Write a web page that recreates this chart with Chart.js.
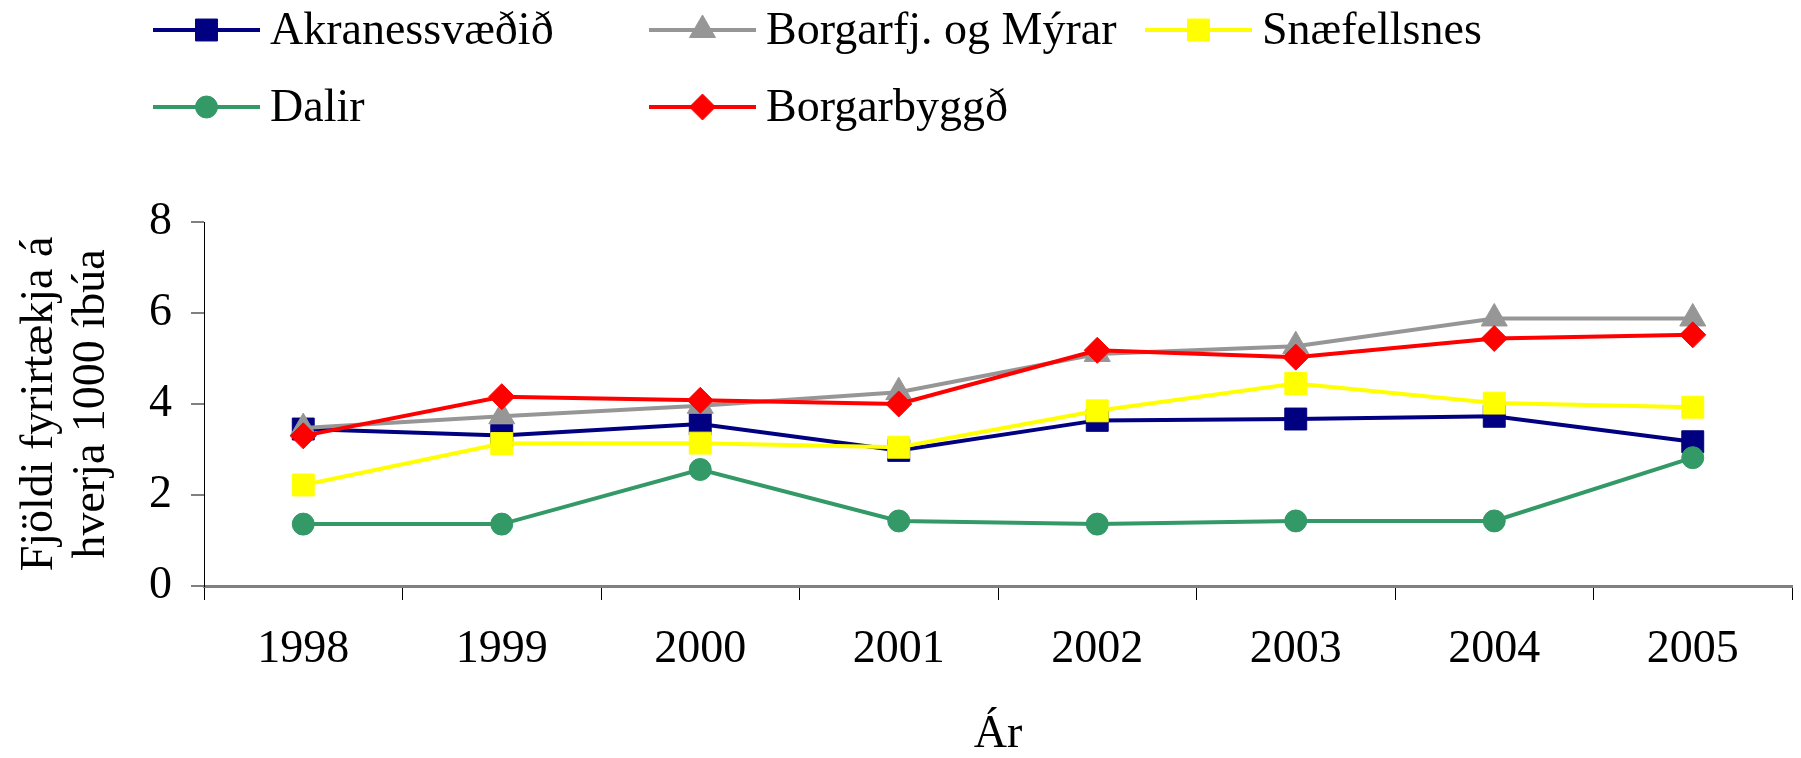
<!DOCTYPE html>
<html>
<head>
<meta charset="utf-8">
<script src="https://cdn.jsdelivr.net/npm/chart.js"></script>
<style>
  html, body { margin:0; padding:0; background:#fff; }
  #chart { display:block; }
</style>
</head>
<body>
<canvas id="chart" width="1801" height="758"></canvas>
<script>
// --- data ---
const years = ['1998','1999','2000','2001','2002','2003','2004','2005'];
const akranes   = [3.45, 3.31, 3.56, 2.98, 3.64, 3.67, 3.73, 3.17];
const borgarfj  = [3.47, 3.73, 3.96, 4.26, 5.10, 5.27, 5.88, 5.88];
const snaefell  = [2.22, 3.13, 3.14, 3.05, 3.85, 4.45, 4.02, 3.93];
const dalir     = [1.36, 1.36, 2.56, 1.43, 1.36, 1.43, 1.43, 2.82];
const borgarbyg = [3.30, 4.16, 4.08, 4.00, 5.18, 5.03, 5.44, 5.52];
const yTicks = [0, 2, 4, 6, 8];

const FONT = '"Liberation Serif", "Times New Roman", serif';

function series(label, data, color, style, radius, order){
  return {
    label, data, order,
    borderColor: color, backgroundColor: color,
    pointBackgroundColor: color, pointBorderColor: color,
    borderWidth: 4, pointStyle: style, pointRadius: radius,
    pointBorderWidth: 1, tension: 0
  };
}

const datasets = [
  series('Akranessvæðið',       akranes,   '#000080', 'rect',     15.5, 5),
  series('Borgarfj. og Mýrar',  borgarfj,  '#969696', 'triangle', 15,   4),
  series('Snæfellsnes',         snaefell,  '#FFFF00', 'rect',     15.5, 3),
  series('Dalir',               dalir,     '#339966', 'circle',   11,   2),
  series('Borgarbyggð',         borgarbyg, '#FF0000', 'rectRot',  13,   1)
];

// legend laid out as a 3-column grid, like the original
const gridLegend = {
  id: 'gridLegend',
  afterDraw(chart){
    const ctx = chart.ctx;
    const cols = [153, 649, 1145], rows = [30, 107], lineLen = 107;
    ctx.save();
    ctx.font = '46px ' + FONT;
    ctx.textBaseline = 'middle';
    ctx.textAlign = 'left';
    chart.data.datasets.forEach((ds, i) => {
      const x = cols[i % 3], y = rows[Math.floor(i / 3)];
      ctx.strokeStyle = ds.borderColor;
      ctx.fillStyle = ds.backgroundColor;
      ctx.lineWidth = 4;
      ctx.beginPath(); ctx.moveTo(x, y); ctx.lineTo(x + lineLen, y); ctx.stroke();
      ctx.lineWidth = 1;
      Chart.helpers.drawPoint(ctx, { pointStyle: ds.pointStyle, radius: ds.pointRadius, rotation: 0, borderWidth: 1 }, x + lineLen / 2, y);
      ctx.fillStyle = '#000';
      ctx.fillText(ds.label, x + lineLen + 10, y + 2);
    });
    ctx.restore();
  }
};

new Chart(document.getElementById('chart'), {
  type: 'line',
  data: { labels: years, datasets },
  options: {
    responsive: false,
    animation: false,
    devicePixelRatio: 1,
    layout: { autoPadding: false, padding: { top: 222, right: 9, bottom: 0, left: 0 } },
    plugins: { legend: { display: false }, tooltip: { enabled: false } },
    scales: {
      x: {
        offset: true,
        grid: { offset: true, drawOnChartArea: false, drawTicks: true, tickLength: 14, color: '#000', lineWidth: 1 },
        border: { color: '#808080', width: 3 },
        ticks: { color: '#000', padding: 22, font: { family: FONT, size: 46 }, maxRotation: 0 },
        title: { display: true, text: 'Ár', color: '#000', font: { family: FONT, size: 46, lineHeight: 1 }, padding: 0 },
        afterFit(scale){ scale.height = 172; scale.paddingLeft = 0; scale.paddingRight = 0; }
      },
      y: {
        min: 0, max: 8,
        afterBuildTicks(scale){ scale.ticks = yTicks.map(v => ({ value: v })); },
        grid: { drawOnChartArea: false, drawTicks: true, tickLength: 13, color: '#808080', lineWidth: 2 },
        border: { color: '#000', width: 1 },
        ticks: { color: '#000', padding: 19, font: { family: FONT, size: 46 } },
        title: { display: true, text: ['Fjöldi fyrirtækja á', 'hverja 1000 íbúa'], color: '#000',
                 font: { family: FONT, size: 46, lineHeight: 1.13 }, padding: { top: 14, bottom: 0 } },
        afterFit(scale){ scale.width = 204; }
      }
    }
  },
  plugins: [gridLegend]
});
</script>
</body>
</html>
